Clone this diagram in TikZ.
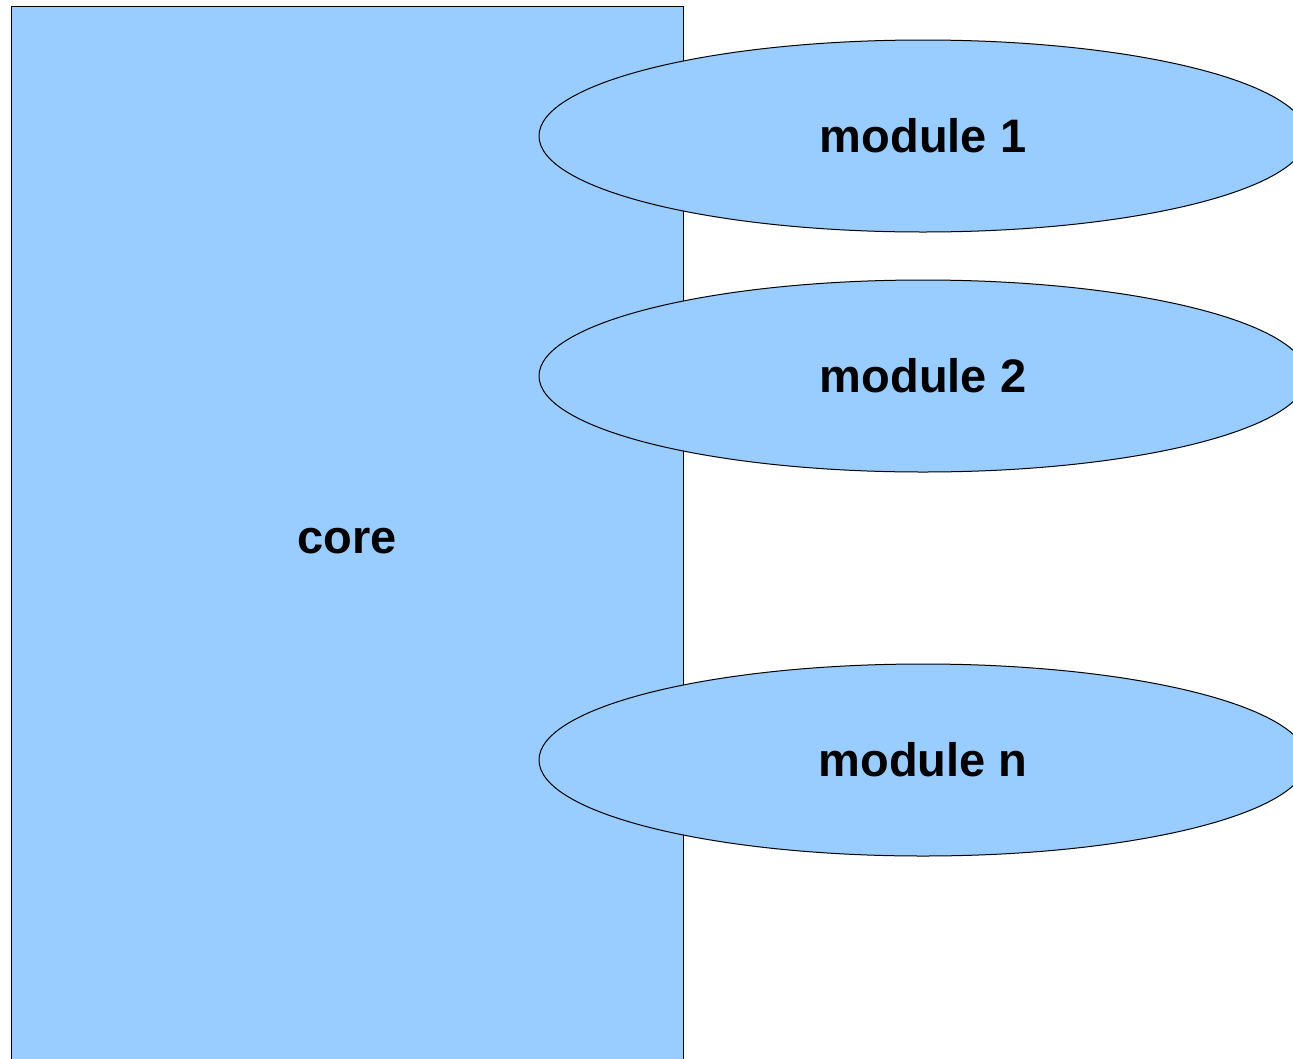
\documentclass[tikz,border=0pt]{standalone}
\usepackage{fontspec}
\setmainfont{Liberation Sans}
\usetikzlibrary{shapes.geometric}
\definecolor{boxblue}{HTML}{99CCFF}
\tikzset{
  part/.style={draw=black, fill=boxblue, line width=1pt, inner sep=0pt,
    font=\fontsize{47}{56}\selectfont\bfseries},
  corebox/.style={part, rectangle, minimum width=672pt, minimum height=1070pt},
  modell/.style={part, ellipse, minimum width=768pt, minimum height=192pt}
}
\begin{document}
\begin{tikzpicture}[x=1pt,y=-1pt]
\useasboundingbox (0,0) rectangle (1293,1058);
\clip (0,0) rectangle (1293,1058);
\node[corebox] (core) at (347,541) {core};
\node[modell] (m1) at (923,136) {module 1};
\node[modell] (m2) at (923,376) {module 2};
\node[modell] (mn) at (923,760) {module n};
\end{tikzpicture}
\end{document}
